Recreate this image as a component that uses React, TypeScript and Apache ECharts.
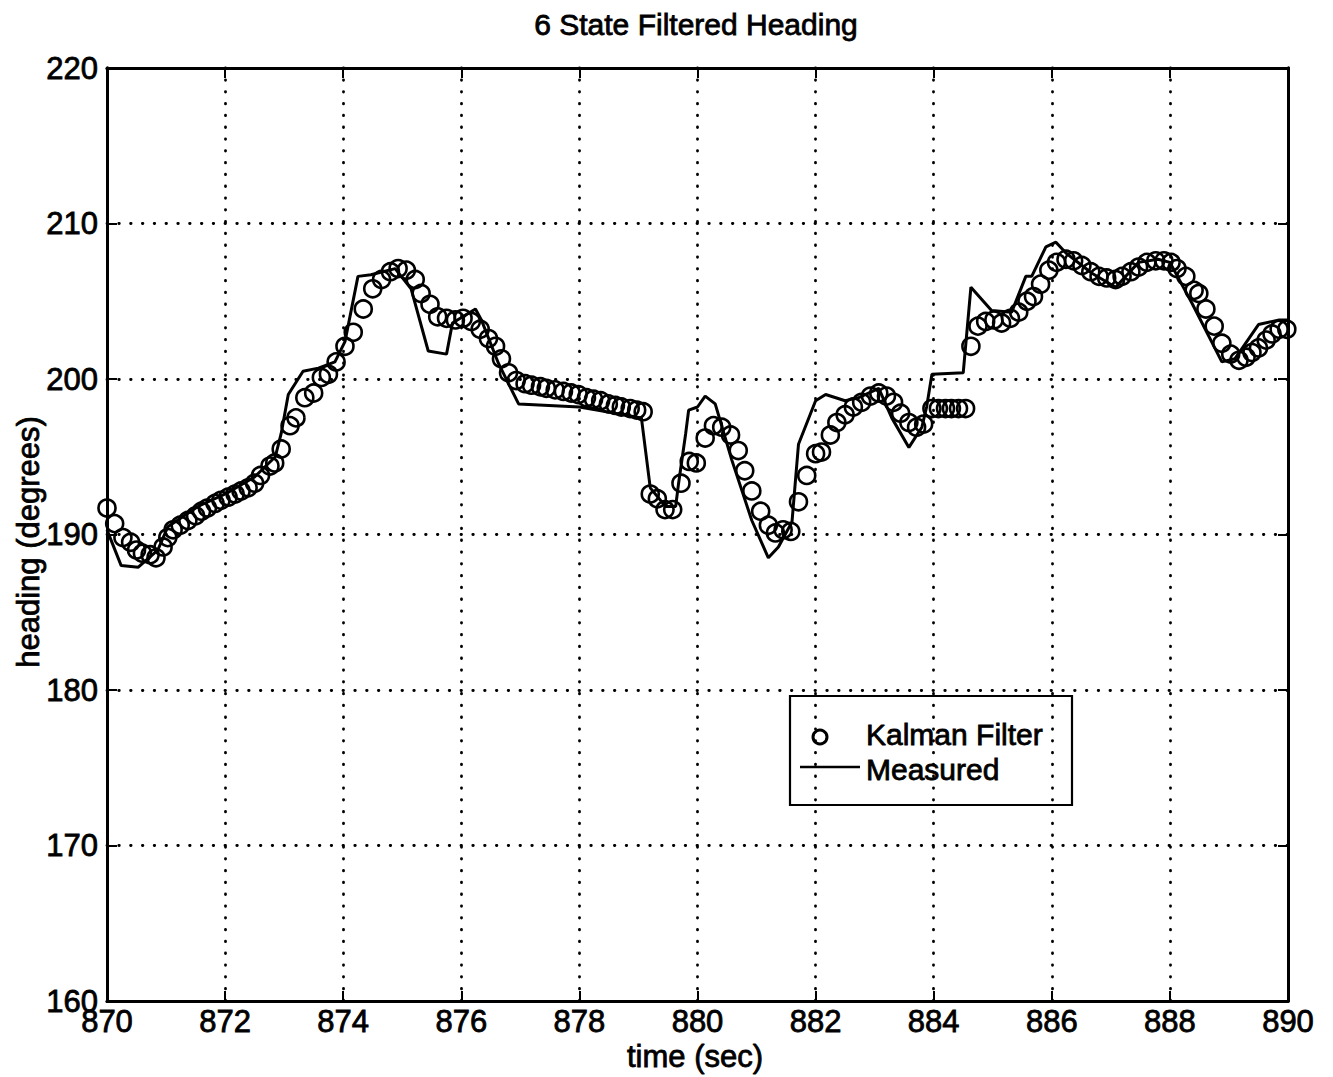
import React, { useEffect, useRef } from "react";
import * as echarts from "echarts";

// Kalman filter estimate (time in s, heading in degrees)
const kalmanTime = [
  870.0, 870.13, 870.27, 870.4, 870.5, 870.6, 870.73, 870.83, 870.95, 871.03,
  871.12, 871.24, 871.37, 871.5, 871.6, 871.7, 871.83, 871.93, 872.05, 872.17,
  872.27, 872.39, 872.5, 872.6, 872.76, 872.84, 872.95, 873.1, 873.2, 873.35,
  873.5, 873.63, 873.75, 873.88, 874.03, 874.17, 874.34, 874.5, 874.65, 874.8,
  874.93, 875.07, 875.22, 875.32, 875.47, 875.6, 875.75, 875.9, 876.03, 876.17,
  876.32, 876.46, 876.58, 876.68, 876.8, 876.93, 877.08, 877.19, 877.34, 877.44,
  877.59, 877.73, 877.86, 877.98, 878.12, 878.24, 878.36, 878.49, 878.61, 878.71,
  878.86, 878.97, 879.08, 879.2, 879.32, 879.45, 879.58, 879.72, 879.86, 879.98,
  880.13, 880.27, 880.41, 880.56, 880.69, 880.8, 880.92, 881.07, 881.2, 881.32,
  881.45, 881.58, 881.71, 881.85, 882.0, 882.1, 882.25, 882.36, 882.5, 882.64,
  882.78, 882.93, 883.07, 883.2, 883.32, 883.44, 883.58, 883.71, 883.83, 883.97,
  884.08, 884.2, 884.3, 884.42, 884.54, 884.63, 884.75, 884.88, 885.02, 885.15,
  885.3, 885.44, 885.58, 885.69, 885.81, 885.95, 886.08, 886.24, 886.37, 886.51,
  886.66, 886.8, 886.93, 887.08, 887.19, 887.34, 887.47, 887.61, 887.76, 887.9,
  888.02, 888.12, 888.27, 888.41, 888.49, 888.61, 888.75, 888.88, 889.03, 889.17,
  889.29, 889.39, 889.5, 889.63, 889.73, 889.85, 889.98,
];
const kalmanHeading = [
  191.7, 190.7, 189.8, 189.5, 189.0, 188.8, 188.7, 188.5, 189.2, 189.8,
  190.3, 190.6, 190.9, 191.2, 191.5, 191.7, 192.0, 192.2, 192.4, 192.6,
  192.8, 193.0, 193.3, 193.8, 194.4, 194.6, 195.5, 197.0, 197.5, 198.8,
  199.1, 200.1, 200.3, 201.1, 202.1, 203.0, 204.5, 205.8, 206.4, 206.9,
  207.1, 207.0, 206.4, 205.5, 204.8, 204.0, 203.9, 203.8, 203.9, 203.7,
  203.2, 202.6, 202.1, 201.3, 200.4, 199.9, 199.7, 199.6, 199.5, 199.4,
  199.3, 199.2, 199.1, 199.0, 198.8, 198.7, 198.6, 198.4, 198.3, 198.2,
  198.1, 198.0, 197.9, 192.6, 192.3, 191.6, 191.6, 193.3, 194.7, 194.6,
  196.2, 197.0, 196.9, 196.4, 195.4, 194.1, 192.8, 191.5, 190.6, 190.1,
  190.3, 190.2, 192.1, 193.8, 195.2, 195.3, 196.4, 197.2, 197.7, 198.2,
  198.5, 198.9, 199.1, 198.9, 198.5, 197.8, 197.2, 196.9, 197.1, 198.1,
  198.1, 198.1, 198.1, 198.1, 198.1, 202.1, 203.4, 203.7, 203.8, 203.6,
  203.9, 204.3, 205.0, 205.3, 206.1, 207.0, 207.5, 207.7, 207.6, 207.3,
  206.9, 206.6, 206.5, 206.4, 206.6, 206.9, 207.2, 207.5, 207.6, 207.6,
  207.5, 207.1, 206.6, 205.7, 205.5, 204.5, 203.4, 202.3, 201.6, 201.2,
  201.4, 201.7, 202.0, 202.5, 202.9, 203.2, 203.2,
];

// Measured heading
const measuredTime = [
  870.0, 870.24, 870.53, 870.86, 871.03, 871.54, 872.05, 872.5, 872.85, 872.95,
  873.07, 873.32, 873.58, 873.86, 874.03, 874.25, 874.47, 874.88, 875.15, 875.44,
  875.75, 875.85, 876.24, 876.34, 876.63, 876.97, 878.0, 879.05, 879.2, 879.46,
  879.63, 879.68, 879.8, 879.85, 880.0, 880.13, 880.3, 880.58, 880.92, 881.2,
  881.37, 881.6, 881.71, 882.0, 882.17, 882.5, 882.73, 883.07, 883.29, 883.58,
  883.8, 883.88, 883.97, 884.5, 884.63, 884.98, 885.32, 885.56, 885.66, 885.9,
  886.07, 886.24, 886.68, 887.08, 887.47, 887.8, 888.0, 888.37, 888.88, 889.1,
  889.5, 889.85, 890.0,
];
const measuredHeading = [
  190.3, 188.0, 187.9, 189.0, 190.5, 191.8, 192.7, 193.7, 195.0, 196.5,
  199.0, 200.5, 200.7, 201.1, 202.4, 206.6, 206.7, 207.1, 205.8, 201.8,
  201.6, 203.6, 204.5, 203.8, 201.0, 198.4, 198.2, 197.5, 193.0, 191.8,
  191.8, 193.3, 196.5, 198.0, 198.2, 198.9, 198.4, 194.8, 190.9, 188.5,
  189.2, 190.8, 195.8, 198.6, 199.0, 198.6, 198.8, 199.4, 197.5, 195.6,
  196.9, 198.2, 200.3, 200.4, 205.9, 204.4, 204.3, 206.6, 206.6, 208.5,
  208.8, 208.1, 206.8, 205.9, 207.5, 207.7, 207.5, 204.9, 201.1, 201.3,
  203.5, 203.8, 203.8,
];

const FONT = "'Liberation Sans', Arial, Helvetica, sans-serif";

// Slightly heavier strokes on text, like a photocopied plot
const textStyle = (text: string, size: number, align: string) => ({
  text,
  fontSize: size,
  fontFamily: FONT,
  fill: "#000",
  stroke: "#000",
  lineWidth: 0.8,
  align,
  verticalAlign: "middle",
});

export default function App() {
  const ref = useRef<HTMLDivElement>(null);

  useEffect(() => {
    document.body.style.margin = "0";
    if (!ref.current) return;
    const chart = echarts.init(ref.current, null, { renderer: "svg" });

    const kalmanData = kalmanTime.map((t, i) => [t, kalmanHeading[i]]);
    const measuredData = measuredTime.map((t, i) => [t, measuredHeading[i]]);

    const dotted = {
      show: true,
      lineStyle: { color: "#000", width: 2.8, type: [0.5, 11.3], cap: "round" },
    };
    const boxLine = { show: true, lineStyle: { color: "#000", width: 3 } };
    const tick = { show: true, inside: true, length: 10, lineStyle: { color: "#000", width: 2 } };
    const label = {
      color: "#000",
      fontSize: 31,
      fontFamily: FONT,
      textBorderColor: "#000",
      textBorderWidth: 0.8,
    };

    chart.setOption({
      animation: false,
      backgroundColor: "#fff",
      grid: { left: 107, right: 45, top: 68, bottom: 76, containLabel: false },
      xAxis: [
        {
          type: "value", min: 870, max: 890, interval: 2, position: "bottom",
          axisLine: boxLine, axisTick: tick, splitLine: dotted,
          axisLabel: { ...label, margin: 5 },
        },
        {
          type: "value", min: 870, max: 890, interval: 2, position: "top",
          axisLine: boxLine, axisTick: tick, splitLine: { show: false },
          axisLabel: { show: false },
        },
      ],
      yAxis: [
        {
          type: "value", min: 160, max: 220, interval: 10, position: "left",
          axisLine: boxLine, axisTick: tick, splitLine: dotted,
          axisLabel: { ...label, margin: 9 },
        },
        {
          type: "value", min: 160, max: 220, interval: 10, position: "right",
          axisLine: boxLine, axisTick: tick, splitLine: { show: false },
          axisLabel: { show: false },
        },
      ],
      series: [
        {
          name: "Kalman Filter",
          type: "scatter",
          data: kalmanData,
          symbol: "circle",
          symbolSize: 17,
          itemStyle: { color: "rgba(0,0,0,0)", borderColor: "#000", borderWidth: 2.6, opacity: 1 },
          z: 3,
        },
        {
          name: "Measured",
          type: "line",
          data: measuredData,
          showSymbol: false,
          symbol: "none",
          lineStyle: { color: "#000", width: 3 },
          z: 4,
        },
      ],
      graphic: [
        { type: "text", x: 696, y: 24, z: 10, style: textStyle("6 State Filtered Heading", 30, "center") },
        { type: "text", x: 695, y: 1056, z: 10, style: textStyle("time (sec)", 31, "center") },
        { type: "text", x: 28, y: 542, rotation: Math.PI / 2, z: 10, style: textStyle("heading (degrees)", 31, "center") },
        {
          type: "group", z: 10,
          children: [
            { type: "rect", shape: { x: 790, y: 696, width: 282, height: 109 }, style: { fill: "none", stroke: "#000", lineWidth: 2.2 } },
            { type: "circle", shape: { cx: 820, cy: 737, r: 7 }, style: { fill: "none", stroke: "#000", lineWidth: 3 } },
            { type: "text", x: 866, y: 734, style: textStyle("Kalman Filter", 30, "left") },
            { type: "line", shape: { x1: 800, y1: 767, x2: 860, y2: 767 }, style: { stroke: "#000", lineWidth: 2.5 } },
            { type: "text", x: 866, y: 769, style: textStyle("Measured", 30, "left") },
          ],
        },
      ],
    });

    return () => chart.dispose();
  }, []);

  return <div ref={ref} style={{ width: 1333, height: 1077 }} />;
}
